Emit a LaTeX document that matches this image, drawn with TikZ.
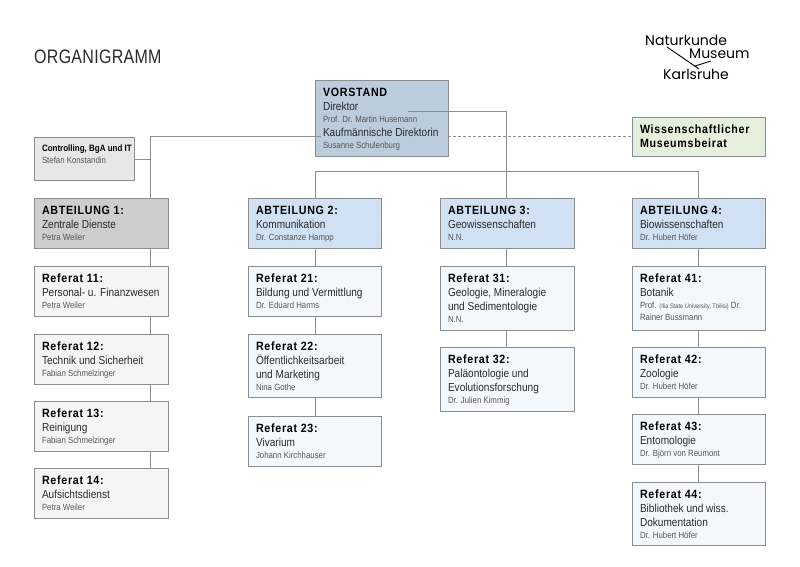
\documentclass[tikz,border=0pt]{standalone}
\usepackage{fontspec}
\setmainfont[FakeStretch=0.87]{Liberation Sans}
\newfontfamily\hdfont[LetterSpace=6,FakeStretch=0.89]{Liberation Sans}
\newfontfamily\titlefont[LetterSpace=1.5,FakeStretch=0.82]{Liberation Sans}
\newfontfamily\logofont{Poppins}
\definecolor{ln}{HTML}{8C8F91}
\definecolor{cVor}{HTML}{BBCCDD}
\definecolor{cBei}{HTML}{E4EFDC}
\definecolor{cCon}{HTML}{E6E8E8}
\definecolor{cAg}{HTML}{CDCFCF}
\definecolor{cAb}{HTML}{D0E1F4}
\definecolor{cRg}{HTML}{F4F6F5}
\definecolor{cRb}{HTML}{F3F8FD}
\definecolor{tx}{HTML}{2A2A2A}
\definecolor{tn}{HTML}{555555}
\tikzset{
  box/.style={draw=ln,line width=.9pt,anchor=north west,inner sep=0pt,outer sep=0pt,text=tx},
  conn/.style={draw=ln,line width=.9pt},
  dash conn/.style={draw=ln,line width=.6pt,densely dashed},
}
\newcommand{\hdl}[1]{\par{\fontsize{12}{17}\selectfont\hdfont\bfseries\color{black}\rule{0pt}{10pt}\mbox{#1}\par}\vspace{1.3pt}}
\newcommand{\hdb}[1]{\par{\fontsize{12}{14.5}\selectfont\hdfont\bfseries\color{black}\rule{0pt}{10pt}\mbox{#1}\par}}
\newcommand{\ttl}[1]{{\fontsize{11.6}{13.5}\selectfont\mbox{#1}\par}}
\newcommand{\nam}[1]{{\fontsize{9}{12}\selectfont\color{tn}\mbox{#1}\par}}
% name x y w h fill text
\newcommand{\bx}[7]{\node[box,fill=#6,minimum width=#4pt,minimum height=#5pt] (#1) at (#2,#3)
  {\begin{minipage}[c][#5pt][t]{\dimexpr#4pt-16pt\relax}\raggedright\vspace*{6pt}\setlength{\parskip}{0pt}\setlength{\parindent}{0pt}#7\end{minipage}};}
\begin{document}
\begin{tikzpicture}[x=1pt,y=-1pt]
\useasboundingbox (0,0) rectangle (800,566);
\node[anchor=base west,inner sep=0pt,font=\titlefont\fontsize{19.5}{20}\selectfont,text=tx] (title) at (34,63) {ORGANIGRAMM};
% logo
\node[anchor=base west,inner sep=0pt,font=\logofont\fontsize{14}{15}\selectfont,text=black] (l1) at (645,45) {Naturkunde};
\node[anchor=base west,inner sep=0pt,font=\logofont\fontsize{14}{15}\selectfont,text=black] (l2) at (689,58) {Museum};
\node[anchor=base west,inner sep=0pt,font=\logofont\fontsize{14}{15}\selectfont,text=black] (l3) at (663,79) {Karlsruhe};
\coordinate (la) at (667,47); \coordinate (lb) at (699,69); \coordinate (lc) at (695,66); \coordinate (ld) at (711,61);
\draw[black,line width=.9pt] (la) -- (lb) (lc) -- (ld);
% boxes
\bx{vor}{315}{80}{133}{76}{cVor}{\hdl{VORSTAND}\ttl{Direktor}\nam{Prof. Dr. Martin Husemann}\ttl{Kaufmännische Direktorin}\nam{Susanne Schulenburg}}
\bx{bei}{632}{117}{133}{39}{cBei}{\hdb{Wissenschaftlicher}\hdb{Museumsbeirat}}
\bx{con}{34}{137}{100}{43}{cCon}{{\fontsize{9.2}{12}\selectfont\bfseries\color{black}\rule{0pt}{8pt}\mbox{Controlling, BgA und IT}\par}\nam{Stefan Konstandin}}
\bx{a1}{34}{198}{134}{50}{cAg}{\hdl{ABTEILUNG 1:}\ttl{Zentrale Dienste}\nam{Petra Weiler}}
\bx{a2}{248}{198}{133}{50}{cAb}{\hdl{ABTEILUNG 2:}\ttl{Kommunikation}\nam{Dr. Constanze Hampp}}
\bx{a3}{440}{198}{134}{50}{cAb}{\hdl{ABTEILUNG 3:}\ttl{Geowissenschaften}\nam{N.N.}}
\bx{a4}{632}{198}{133}{50}{cAb}{\hdl{ABTEILUNG 4:}\ttl{Biowissenschaften}\nam{Dr. Hubert Höfer}}
\bx{r11}{34}{266}{134}{50}{cRg}{\hdl{Referat 11:}\ttl{Personal- u. Finanzwesen}\nam{Petra Weiler}}
\bx{r12}{34}{334}{134}{50}{cRg}{\hdl{Referat 12:}\ttl{Technik und Sicherheit}\nam{Fabian Schmelzinger}}
\bx{r13}{34}{401}{134}{50}{cRg}{\hdl{Referat 13:}\ttl{Reinigung}\nam{Fabian Schmelzinger}}
\bx{r14}{34}{468}{134}{50}{cRg}{\hdl{Referat 14:}\ttl{Aufsichtsdienst}\nam{Petra Weiler}}
\bx{r21}{248}{266}{133}{50}{cRb}{\hdl{Referat 21:}\ttl{Bildung und Vermittlung}\nam{Dr. Eduard Harms}}
\bx{r22}{248}{334}{133}{63}{cRb}{\hdl{Referat 22:}\ttl{Öffentlichkeitsarbeit}\ttl{und Marketing}\nam{Nina Gothe}}
\bx{r23}{248}{416}{133}{50}{cRb}{\hdl{Referat 23:}\ttl{Vivarium}\nam{Johann Kirchhauser}}
\bx{r31}{440}{266}{134}{64}{cRb}{\hdl{Referat 31:}\ttl{Geologie, Mineralogie}\ttl{und Sedimentologie}\nam{N.N.}}
\bx{r32}{440}{347}{134}{64}{cRb}{\hdl{Referat 32:}\ttl{Paläontologie und}\ttl{Evolutionsforschung}\nam{Dr. Julien Kimmig}}
\bx{r41}{632}{266}{133}{64}{cRb}{\hdl{Referat 41:}\ttl{Botanik}\nam{Prof. {\fontsize{6.5}{12}\selectfont(Ilia State University, Tbilisi)} Dr.}\nam{Rainer Bussmann}}
\bx{r42}{632}{347}{133}{50}{cRb}{\hdl{Referat 42:}\ttl{Zoologie}\nam{Dr. Hubert Höfer}}
\bx{r43}{632}{414}{133}{50}{cRb}{\hdl{Referat 43:}\ttl{Entomologie}\nam{Dr. Björn von Reumont}}
\bx{r44}{632}{482}{133}{63}{cRb}{\hdl{Referat 44:}\ttl{Bibliothek und wiss.}\ttl{Dokumentation}\nam{Dr. Hubert Höfer}}
% connector points
\coordinate (dir) at (408,111);
\coordinate (kfm) at (321,136);
\coordinate (t1) at (150,136);
\coordinate (bus) at (315,171);
\coordinate (busr) at (698,171);
\coordinate (t3) at (506,111);
\coordinate (t4) at (698,198);
% connectors
\draw[conn] (dir) -- (t3) -- (t3|-a3.north);
\draw[conn] (bus|-a2.north) -- (bus) -- (busr) -- (busr|-a4.north);
\draw[conn] (kfm) -- (t1) -- (t1|-a1.north);
\draw[conn] (con.east|-0,159) -- (t1|-0,159);
\draw[dash conn] (vor.east|-0,136) -- (bei.west|-0,136);
\draw[conn] (t1|-a1.south) -- (t1|-r11.north) (t1|-r11.south) -- (t1|-r12.north) (t1|-r12.south) -- (t1|-r13.north) (t1|-r13.south) -- (t1|-r14.north);
\draw[conn] (bus|-a2.south) -- (bus|-r21.north) (bus|-r21.south) -- (bus|-r22.north) (bus|-r22.south) -- (bus|-r23.north);
\draw[conn] (t3|-a3.south) -- (t3|-r31.north) (t3|-r31.south) -- (t3|-r32.north);
\draw[conn] (t4|-a4.south) -- (t4|-r41.north) (t4|-r41.south) -- (t4|-r42.north) (t4|-r42.south) -- (t4|-r43.north) (t4|-r43.south) -- (t4|-r44.north);
\end{tikzpicture}
\end{document}
